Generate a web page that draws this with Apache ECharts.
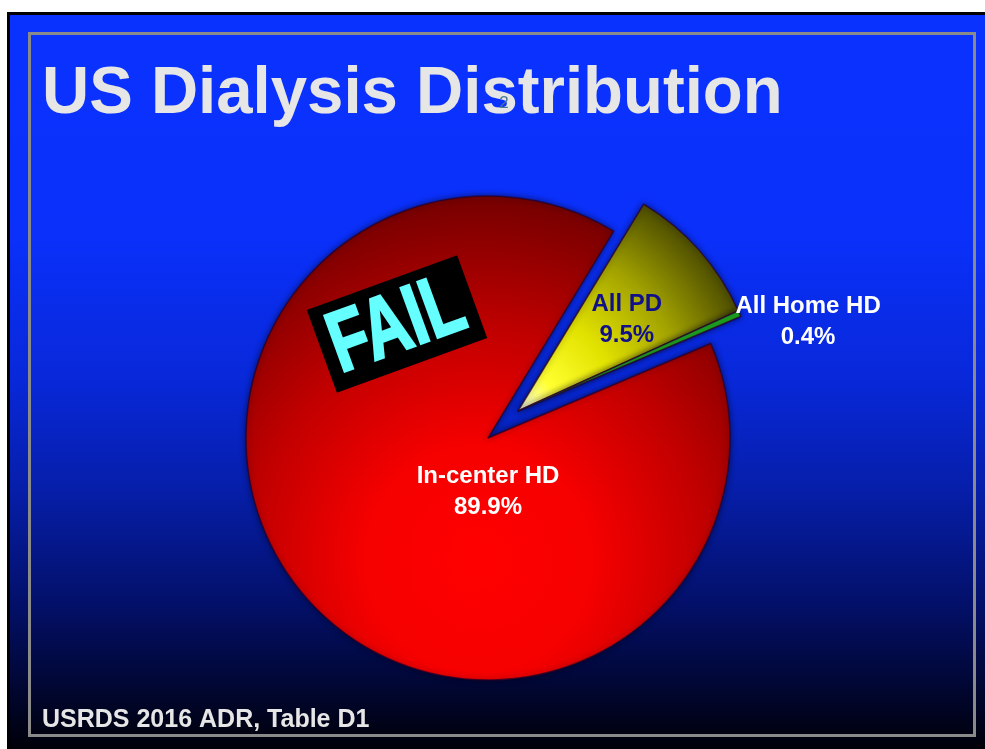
<!DOCTYPE html>
<html><head><meta charset="utf-8">
<script src="https://cdn.jsdelivr.net/npm/echarts@6/dist/echarts.min.js"></script>
<style>html,body{margin:0;padding:0;background:#fff;overflow:hidden;} #c{width:985px;height:749px;}</style>
</head><body><div id="c"></div>
<script>
// ---- data ----
const categories = ['In-center HD', 'All PD', 'All Home HD'];
const values = [89.9, 9.5, 0.4];
const exploded = [false, true, true];
const titleText = 'US Dialysis Distribution';
const sourceText = 'USRDS 2016 ADR, Table D1';
const stampText = 'FAIL';
const slideNumber = '2';

// ---- styles ----
const labelFont = "'Liberation Sans', Arial, sans-serif";
const fills = [
  {type:'radial', x:0.48, y:0.75, r:0.78, colorStops:[
    {offset:0, color:'#ff0000'},{offset:0.3, color:'#f60000'},{offset:0.6, color:'#c20000'},
    {offset:0.85, color:'#8c0000'},{offset:1, color:'#6e0000'}]},
  {type:'radial', x:0.02, y:0.98, r:1.15, colorStops:[
    {offset:0, color:'#ffffd8'},{offset:0.15, color:'#ffff30'},{offset:0.4, color:'#e2e200'},
    {offset:0.7, color:'#a0a000'},{offset:1, color:'#4a4a00'}]},
  '#1fae1f'
];
const labelStyles = [
  {position:'center', color:'#ffffff', padding:[108,0,0,0]},
  {position:'inside', color:'#10108a', padding:[0,0,17,32]},
  {position:'outside', color:'#ffffff', padding:[8,0,0,0]}
];

function makeItem(i, visible) {
  if (!visible) {
    return {name: categories[i], value: values[i],
      itemStyle: {color:'rgba(0,0,0,0)', borderWidth:0, shadowBlur:0},
      label: {show:false}, labelLine: {show:false}};
  }
  const ls = labelStyles[i];
  return {
    name: categories[i],
    value: values[i],
    itemStyle: {color: fills[i]},
    label: Object.assign({
      show: true,
      formatter: '{a|{b}}\n{a|{c}%}',
      rich: {a: {align:'center', fontFamily: labelFont, fontWeight:'bold', fontSize:24, lineHeight:31, color: ls.color}}
    }, ls),
    labelLine: {show:false, length:-10, length2:0}
  };
}

const baseSeries = {
  type: 'pie',
  z: 5,
  radius: 242,
  startAngle: 23,
  clockwise: true,
  avoidLabelOverlap: false,
  silent: true,
  emphasis: {disabled: true},
  itemStyle: {borderColor:'rgba(40,0,40,0.75)', borderWidth:1.5, shadowBlur:6, shadowColor:'rgba(0,0,30,0.6)'}
};

const chart = echarts.init(document.getElementById('c'), null, {renderer: 'canvas'});
chart.setOption({
  animation: false,
  graphic: [
    {type:'rect', z:0, shape:{x:7, y:12, width:978, height:737}, style:{fill:'#000'}},
    {type:'rect', z:0, shape:{x:10, y:15, width:975, height:734}, style:{fill:{
      type:'linear', x:0, y:0, x2:0, y2:1, colorStops:[
        {offset:0, color:'#0a32ff'},{offset:0.3, color:'#0a30fa'},{offset:0.5, color:'#0828d8'},
        {offset:0.65, color:'#061ea8'},{offset:0.8, color:'#03106a'},{offset:0.92, color:'#010630'},{offset:1, color:'#000008'}]}}},
    {type:'rect', z:1, shape:{x:29.5, y:33.5, width:945, height:702}, style:{fill:null, stroke:'#8a8a8a', lineWidth:3}},
    {type:'text', z:20, x:42, y:95, scaleX:0.99, style:{text:titleText, font:"bold 66px 'Liberation Sans', Arial, sans-serif", fill:'#e6e6e6', verticalAlign:'middle'}},
    {type:'text', z:21, x:504, y:103, style:{text:slideNumber, font:"17px 'Liberation Sans', Arial, sans-serif", fill:'#4a7a96', align:'center', verticalAlign:'middle'}},
    {type:'text', z:20, x:42, y:720, style:{text:sourceText, font:"bold 25px 'Liberation Sans', Arial, sans-serif", fill:'#e6e6e6', verticalAlign:'middle'}},
    {type:'group', z:30, x:397, y:324, rotation:20*Math.PI/180, children:[
      {type:'rect', z:30, shape:{x:-80, y:-44, width:160, height:88}, style:{fill:'#000'}},
      {type:'text', z:31, x:-1, y:3, scaleX:0.74, style:{text:stampText, font:"bold 86px 'Liberation Sans', Arial, sans-serif", fill:'#66ffff', stroke:'#66ffff', lineWidth:2.5, align:'center', verticalAlign:'middle'}}
    ]}
  ],
  series: [
    Object.assign({}, baseSeries, {
      name: 'main', center: [488, 438],
      data: categories.map((c, i) => makeItem(i, !exploded[i]))
    }),
    Object.assign({}, baseSeries, {
      name: 'exploded', center: [518, 411],
      data: categories.map((c, i) => makeItem(i, exploded[i]))
    })
  ]
});
</script></body></html>
